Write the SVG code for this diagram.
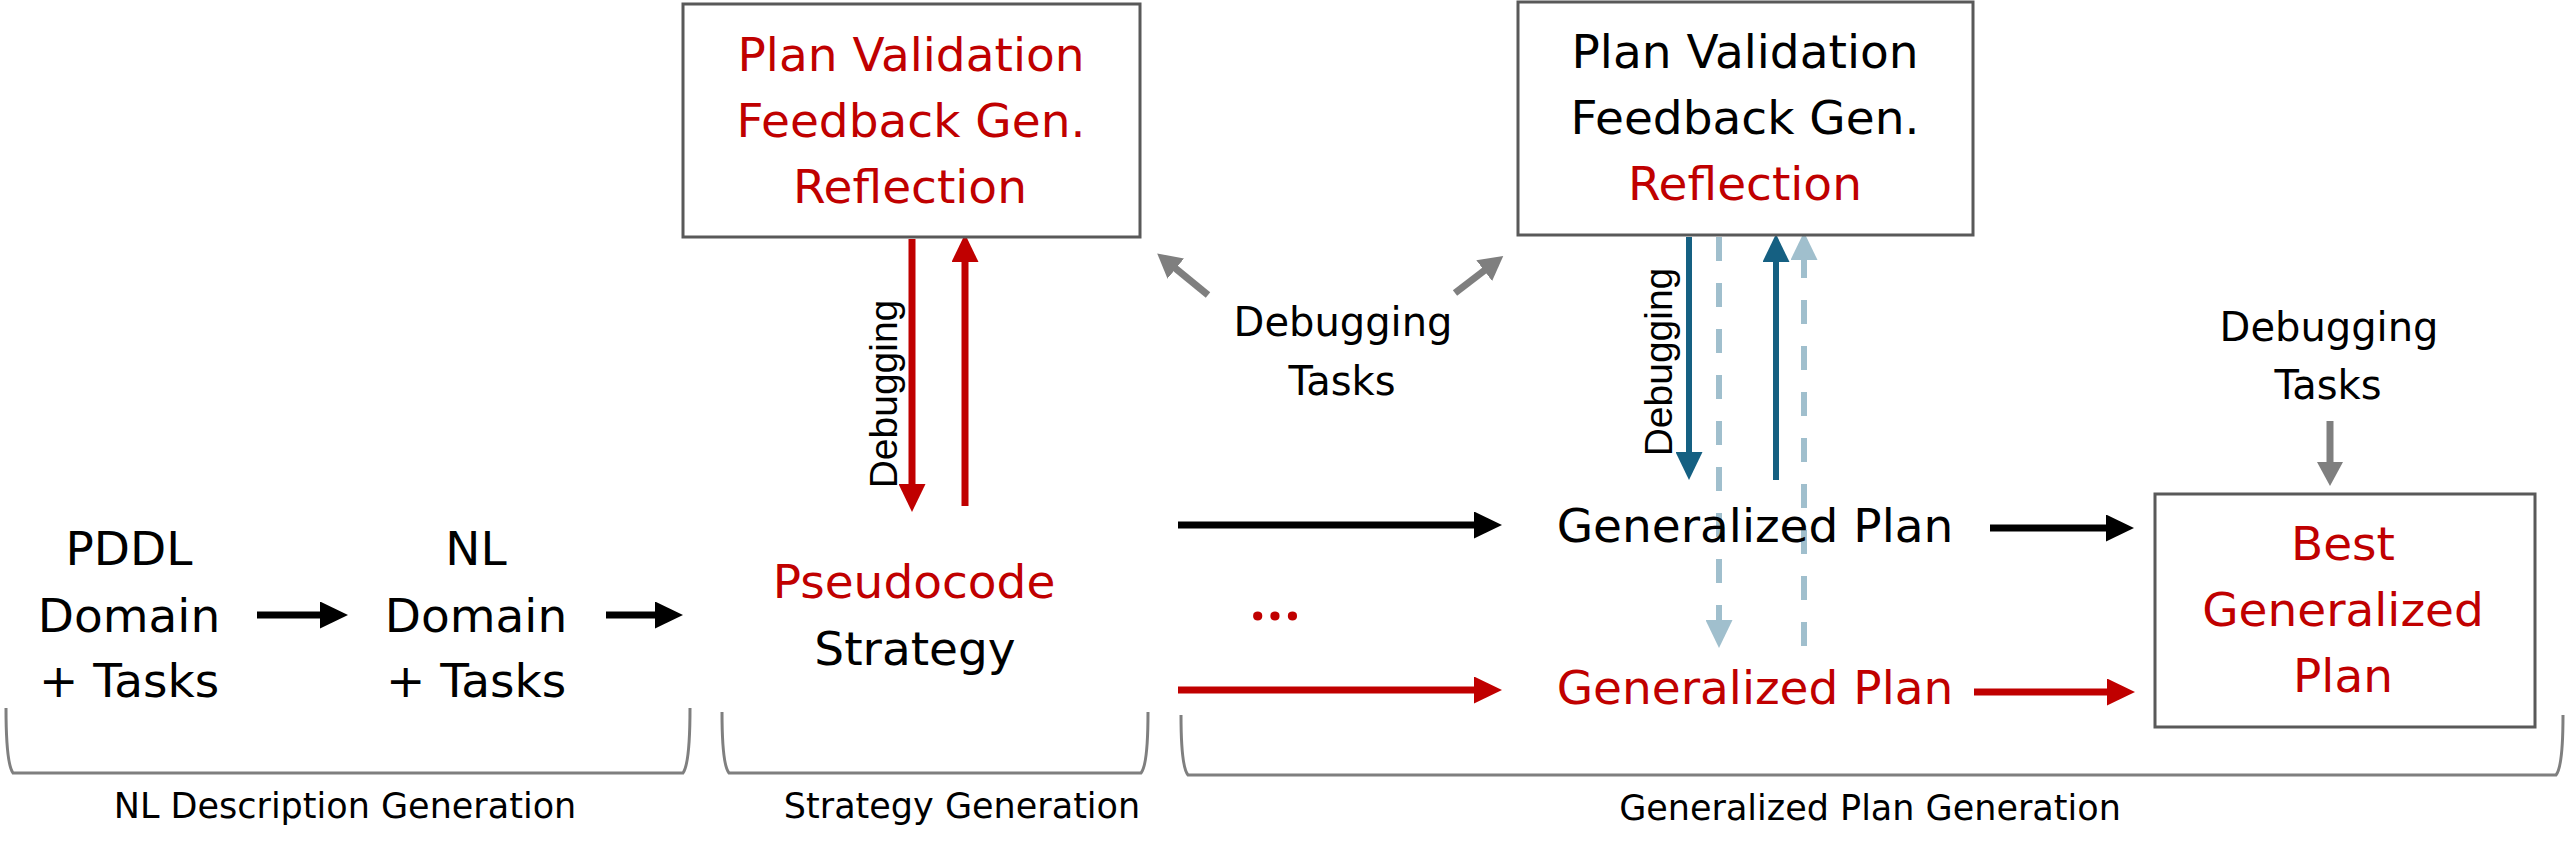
<svg xmlns="http://www.w3.org/2000/svg" width="2566" height="858" viewBox="0 0 2566 858">
<style>
  .t { font-family: "DejaVu Sans", "Liberation Sans", sans-serif; font-size: 47px; text-anchor: middle; fill: #000; }
  .r { fill: #C00000; }
  .dbg { font-family: "DejaVu Sans", "Liberation Sans", sans-serif; font-size: 40px; text-anchor: middle; fill: #000; }
  .rot { font-family: "Liberation Sans", "DejaVu Sans", sans-serif; font-size: 39px; text-anchor: middle; fill: #000; }
  .lbl { font-family: "DejaVu Sans", "Liberation Sans", sans-serif; font-size: 35px; text-anchor: middle; fill: #000; }
  .box { fill: #fff; stroke: #595959; stroke-width: 3; }
  .brk { fill: none; stroke: #7F7F7F; stroke-width: 3; }
  .ak { stroke: #000; stroke-width: 7; fill: none; }
  .ar { stroke: #C00000; stroke-width: 7; fill: none; }
  .ab { stroke: #156082; stroke-width: 6; fill: none; }
  .al { stroke: #A0BFCD; stroke-width: 6; fill: none; stroke-dasharray: 24 22; }
  .ag { stroke: #7F7F7F; stroke-width: 7; fill: none; }
</style>
<defs>
  <marker id="mk" markerUnits="userSpaceOnUse" markerWidth="28" markerHeight="27" viewBox="0 0 28 27" refX="1" refY="13.5" orient="auto"><path d="M0,0 L28,13.5 L0,27 z" fill="#000"/></marker>
  <marker id="mr" markerUnits="userSpaceOnUse" markerWidth="28" markerHeight="27" viewBox="0 0 28 27" refX="1" refY="13.5" orient="auto"><path d="M0,0 L28,13.5 L0,27 z" fill="#C00000"/></marker>
  <marker id="mb" markerUnits="userSpaceOnUse" markerWidth="28" markerHeight="27" viewBox="0 0 28 27" refX="1" refY="13.5" orient="auto"><path d="M0,0 L28,13.5 L0,27 z" fill="#156082"/></marker>
  <marker id="ml" markerUnits="userSpaceOnUse" markerWidth="28" markerHeight="27" viewBox="0 0 28 27" refX="1" refY="13.5" orient="auto"><path d="M0,0 L28,13.5 L0,27 z" fill="#A0BFCD"/></marker>
  <marker id="mg" markerUnits="userSpaceOnUse" markerWidth="24" markerHeight="26" viewBox="0 0 24 26" refX="1" refY="13" orient="auto"><path d="M0,0 L24,13 L0,26 z" fill="#7F7F7F"/></marker>
</defs>

<g id="brackets">
  <path class="brk" d="M6,708 C6,742 8,766 13,773 L683,773 C688,766 690,742 690,708"/>
  <path class="brk" d="M722,712 C722,745 724,767 729,773 L1141,773 C1146,767 1148,745 1148,712"/>
  <path class="brk" d="M1181,715 C1181,748 1183,769 1188,775 L2556,775 C2561,769 2563,748 2563,715"/>
  <text class="lbl" x="345" y="818">NL Description Generation</text>
  <text class="lbl" x="962" y="818">Strategy Generation</text>
  <text class="lbl" x="1870" y="820">Generalized Plan Generation</text>
</g>

<g id="connectors">
  <line class="ak" x1="257" y1="615" x2="321" y2="615" marker-end="url(#mk)"/>
  <line class="ak" x1="606" y1="615" x2="656" y2="615" marker-end="url(#mk)"/>
  <line class="ak" x1="1178" y1="525" x2="1475" y2="525" marker-end="url(#mk)"/>
  <line class="ar" x1="1178" y1="690" x2="1475" y2="690" marker-end="url(#mr)"/>
  <line class="ak" x1="1990" y1="528" x2="2107" y2="528" marker-end="url(#mk)"/>
  <line class="ar" x1="1974" y1="692" x2="2108" y2="692" marker-end="url(#mr)"/>
  <line class="ar" x1="912" y1="239" x2="912" y2="485" marker-end="url(#mr)"/>
  <line class="ar" x1="965" y1="506" x2="965" y2="261" marker-end="url(#mr)"/>
  <line class="ab" x1="1689" y1="237" x2="1689" y2="453" marker-end="url(#mb)"/>
  <line class="al" x1="1719" y1="237" x2="1719" y2="621" marker-end="url(#ml)"/>
  <line class="ab" x1="1776" y1="480" x2="1776" y2="261" marker-end="url(#mb)"/>
  <line class="al" x1="1804" y1="646" x2="1804" y2="259" marker-end="url(#ml)"/>
  <line class="ag" x1="1208" y1="295" x2="1175" y2="268" marker-end="url(#mg)"/>
  <line class="ag" x1="1455" y1="293" x2="1485" y2="270" marker-end="url(#mg)"/>
  <line class="ag" x1="2330" y1="421" x2="2330" y2="463" marker-end="url(#mg)"/>
  <text class="rot" x="897" y="394" transform="rotate(-90 897 394)">Debugging</text>
  <text class="rot" x="1672" y="362" transform="rotate(-90 1672 362)">Debugging</text>
</g>

<g id="pddl">
  <text class="t" x="129" y="565">PDDL</text>
  <text class="t" x="129" y="632">Domain</text>
  <text class="t" x="129" y="697">+ Tasks</text>
</g>

<g id="nl">
  <text class="t" x="476" y="565">NL</text>
  <text class="t" x="476" y="632">Domain</text>
  <text class="t" x="476" y="697">+ Tasks</text>
</g>

<g id="strategy">
  <text class="t r" x="914" y="598">Pseudocode</text>
  <text class="t" x="915" y="665">Strategy</text>
</g>

<g id="validation1">
  <rect class="box" x="683" y="4" width="457" height="233"/>
  <text class="t r" x="911" y="71">Plan Validation</text>
  <text class="t r" x="911" y="137">Feedback Gen.</text>
  <text class="t r" x="910" y="203">Reflection</text>
</g>

<g id="validation2">
  <rect class="box" x="1518" y="2" width="455" height="233"/>
  <text class="t" x="1745" y="68">Plan Validation</text>
  <text class="t" x="1745" y="134">Feedback Gen.</text>
  <text class="t r" x="1745" y="200">Reflection</text>
</g>

<g id="debugging-tasks-1">
  <text class="dbg" x="1343" y="336">Debugging</text>
  <text class="dbg" x="1342" y="395">Tasks</text>
</g>

<g id="debugging-tasks-2">
  <text class="dbg" x="2329" y="341">Debugging</text>
  <text class="dbg" x="2328" y="399">Tasks</text>
</g>

<g id="genplan1">
  <text class="t" x="1755" y="542">Generalized Plan</text>
</g>

<g id="ellipsis">
  <text class="r" x="1276" y="620" style="font-family:'Open Sans','Noto Sans',sans-serif;font-weight:bold;font-size:54px;text-anchor:middle;letter-spacing:2px">...</text>
</g>

<g id="genplan2">
  <text class="t r" x="1755" y="704">Generalized Plan</text>
</g>

<g id="best">
  <rect class="box" x="2155" y="494" width="380" height="233"/>
  <text class="t r" x="2343" y="560">Best</text>
  <text class="t r" x="2343" y="626">Generalized</text>
  <text class="t r" x="2343" y="692">Plan</text>
</g>
</svg>
